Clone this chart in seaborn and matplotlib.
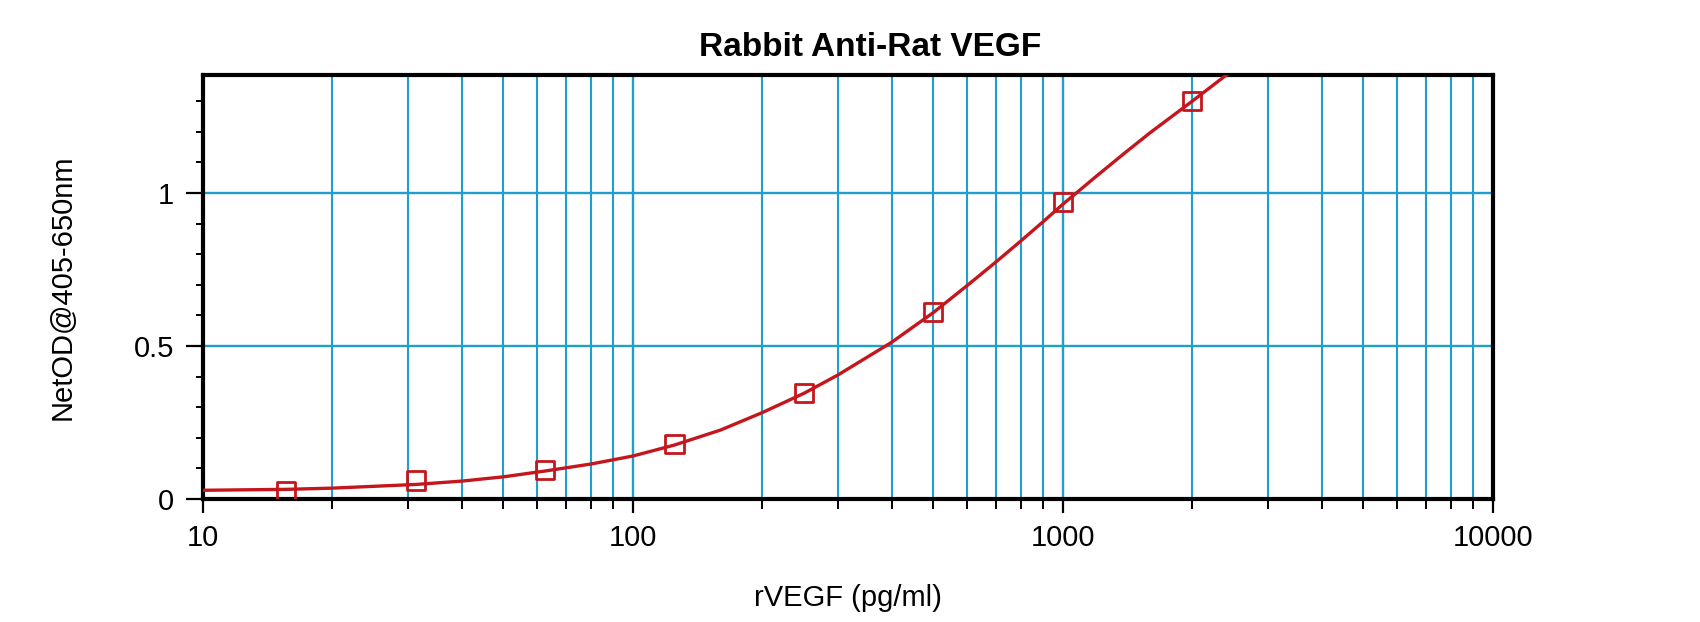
import seaborn as sns
import pandas as pd
import matplotlib.pyplot as plt
import matplotlib.ticker as ticker

# standards (pg/ml) and measured NetOD
conc = [15.6, 31.25, 62.5, 125, 250, 500, 1000, 2000]
od = [0.024, 0.060, 0.095, 0.179, 0.345, 0.611, 0.970, 1.300]

# fitted curve
curve_x = [10, 15.6, 20, 31.25, 40, 50, 62.5, 80, 100, 125, 160, 200, 250,
           300, 400, 500, 600, 700, 800, 900, 1000, 1200, 1400, 1600, 2000, 2450]
curve_y = [0.028, 0.031, 0.035, 0.047, 0.058, 0.072, 0.091, 0.114, 0.140, 0.176,
           0.225, 0.282, 0.345, 0.405, 0.512, 0.609, 0.698, 0.775, 0.844, 0.906,
           0.963, 1.056, 1.133, 1.198, 1.300, 1.395]

y_major = [0, 0.5, 1]
y_labels = ['0', '0.5', '1']
x_major = [10, 100, 1000, 10000]
x_labels = ['10', '100', '1000', '10000']

RED = '#c4161c'
GRID = '#1e9fd0'

sns.set_theme(style="white")
plt.rcParams['font.family'] = ['Liberation Sans', 'DejaVu Sans']

fig, ax = plt.subplots(figsize=(17, 6.22), dpi=100)
fig.subplots_adjust(left=0.1194, right=0.878, bottom=0.198, top=0.879)

pts = pd.DataFrame({'x': conc, 'y': od})
fit = pd.DataFrame({'x': curve_x, 'y': curve_y})

sns.lineplot(data=fit, x='x', y='y', color=RED, linewidth=2.4, ax=ax, zorder=3)
sns.scatterplot(data=pts, x='x', y='y', marker='s', s=170, facecolors='none',
                edgecolor=RED, linewidth=2, ax=ax, zorder=4)

ax.set_xscale('log')
ax.set_xlim(10, 10000)
ax.set_ylim(0, 1.385)

ax.xaxis.set_major_locator(ticker.FixedLocator(x_major))
ax.xaxis.set_major_formatter(ticker.FixedFormatter(x_labels))
ax.xaxis.set_minor_locator(ticker.LogLocator(base=10, subs=range(2, 10)))
ax.xaxis.set_minor_formatter(ticker.NullFormatter())
ax.yaxis.set_major_locator(ticker.FixedLocator(y_major))
ax.yaxis.set_major_formatter(ticker.FixedFormatter(y_labels))
ax.yaxis.set_minor_locator(ticker.MultipleLocator(0.1))

ax.grid(True, which='major', axis='both', color=GRID, linewidth=1.7)
ax.grid(True, which='minor', axis='x', color=GRID, linewidth=1.5)
ax.set_axisbelow(True)

ax.tick_params(axis='both', which='both', direction='out', color='black',
               labelsize=21, labelcolor='black')
ax.tick_params(axis='x', which='major', length=10, width=1.6, pad=8,
               bottom=True)
ax.tick_params(axis='x', which='minor', length=7, width=1.4, bottom=True)
ax.tick_params(axis='y', which='major', length=12, width=1.6, pad=9, left=True)
ax.tick_params(axis='y', which='minor', length=5, width=1.4, left=True)

for sp in ax.spines.values():
    sp.set_visible(True)
    sp.set_color('black')
    sp.set_linewidth(3)

ax.set_title('Rabbit Anti-Rat VEGF', fontsize=24, fontweight='bold', color='black',
             x=0.517, pad=14)
ax.set_xlabel('rVEGF (pg/ml)', fontsize=21, color='black', labelpad=23)
ax.set_ylabel('NetOD@405-650nm', fontsize=21, color='black', labelpad=41)

plt.savefig('out.png', dpi=100)
